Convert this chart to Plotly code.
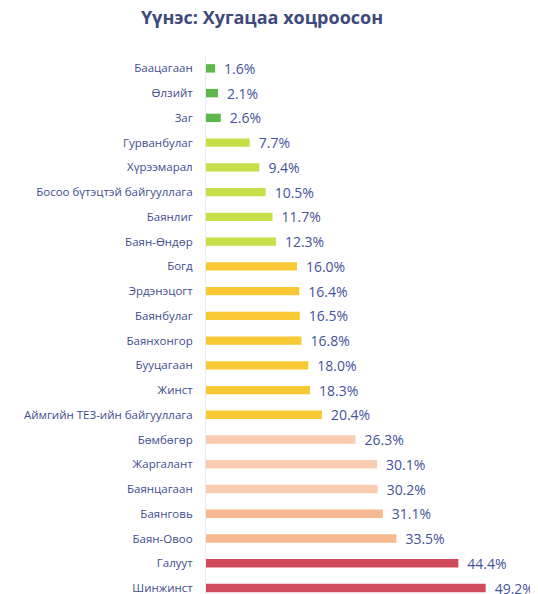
import plotly.graph_objects as go

categories = [
    "Баацагаан", "Өлзийт", "Заг", "Гурванбулаг", "Хүрээмарал",
    "Босоо бүтэцтэй байгууллага", "Баянлиг", "Баян-Өндөр", "Богд",
    "Эрдэнэцогт", "Баянбулаг", "Баянхонгор", "Бууцагаан", "Жинст",
    "Аймгийн ТЕЗ-ийн байгууллага", "Бөмбөгөр", "Жаргалант", "Баянцагаан",
    "Баянговь", "Баян-Овоо", "Галуут", "Шинжинст",
]
values = [1.6, 2.1, 2.6, 7.7, 9.4, 10.5, 11.7, 12.3, 16.0, 16.4, 16.5, 16.8,
          18.0, 18.3, 20.4, 26.3, 30.1, 30.2, 31.1, 33.5, 44.4, 49.2]
colors = (["#5cb84a"] * 3 + ["#c8df4a"] * 5 + ["#f9c935"] * 7 +
          ["#f9cbb0"] * 3 + ["#f7b990"] * 2 + ["#cf4a5a"] * 2)
labels = [f"{v:.1f}%" for v in values]
title_text = "Үүнэс: Хугацаа хоцроосон"

W, H = 530, 586

fig = go.Figure(go.Bar(
    x=values, y=categories, orientation="h",
    marker=dict(color=colors, line=dict(width=0)),
    width=0.34,
    text=[" \u2009" + t for t in labels], textposition="outside",
    constraintext="none", cliponaxis=False,
    textfont=dict(family="Open Sans", size=14, color="#46529a"),
))

fig.update_layout(
    width=W, height=H,
    margin=dict(l=198, r=8, t=48, b=0, autoexpand=False),
    paper_bgcolor="white", plot_bgcolor="white",
    showlegend=False,
    title=dict(text=f"<b>{title_text}</b>", x=254 / W, xanchor="center",
               y=1 - 10 / H, yanchor="middle", xref="container", yref="container",
               font=dict(family="Open Sans", size=18, color="#3e4a7c")),
    xaxis=dict(range=[0, 57], visible=False, fixedrange=True),
    yaxis=dict(range=[21.24, -0.5], showgrid=False, zeroline=False,
               showline=True, linecolor="#e8ecf2", linewidth=1,
               ticks="", ticklabelstandoff=10,
               tickfont=dict(family="Open Sans", size=11.5, color="#3f4d8f")),
)

fig.write_html("out.html")
